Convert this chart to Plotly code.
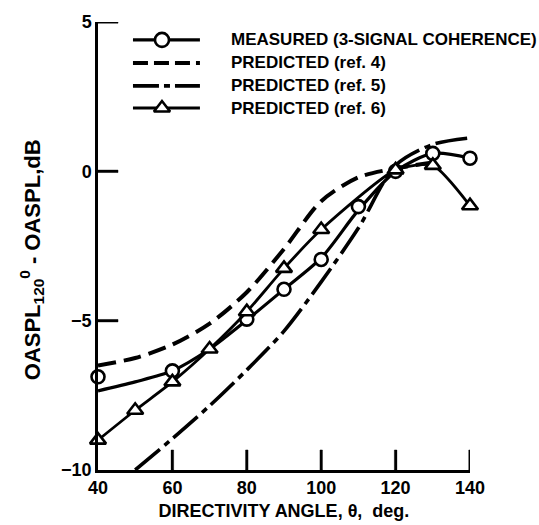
import plotly.graph_objects as go

# Directivity angle, deg
angle_meas = [40, 60, 80, 90, 100, 110, 120, 130, 140]
oaspl_meas = [-6.88, -6.68, -4.95, -3.95, -2.95, -1.18, 0.0, 0.6, 0.44]

# Faired curve through the measured data
angle_meas_fit = [40, 50, 60, 70, 80, 90, 100, 110, 120, 130, 140]
oaspl_meas_fit = [-7.35, -7.05, -6.68, -5.95, -4.98, -3.95, -2.9, -1.3, 0.0, 0.6, 0.44]

# Predicted (ref. 4)
angle_ref4 = [40, 50, 60, 70, 80, 90, 100, 110, 120, 130]
oaspl_ref4 = [-6.5, -6.25, -5.8, -5.1, -4.05, -2.6, -1.0, -0.2, 0.1, 0.3]

# Predicted (ref. 5)
angle_ref5 = [50, 60, 70, 80, 90, 100, 110, 120, 130, 140]
oaspl_ref5 = [-10.0, -8.95, -7.85, -6.65, -5.35, -3.7, -1.9, 0.2, 0.9, 1.12]

# Predicted (ref. 6)
angle_ref6 = [40, 50, 60, 70, 80, 90, 100, 120, 130, 140]
oaspl_ref6 = [-9.0, -8.0, -7.05, -5.95, -4.7, -3.25, -1.95, 0.05, 0.2, -1.15]

legend_labels = [
    "MEASURED (3-SIGNAL COHERENCE)",
    "PREDICTED (ref. 4)",
    "PREDICTED (ref. 5)",
    "PREDICTED (ref. 6)",
]

x_ticks = [40, 60, 80, 100, 120, 140]
y_ticks = [-10, -5, 0, 5]

FONT = "Liberation Sans, Arial, sans-serif"
INK = "black"
X_RANGE = [40, 140]
Y_RANGE = [-10, 5]
PLOT_W, PLOT_H = 372, 448
TICK_LEN_PX = 20
TICK_W_PX = 2.4

fig = go.Figure()

# measured: faired line + open circles
fig.add_trace(go.Scatter(x=angle_meas_fit, y=oaspl_meas_fit, mode="lines",
                         line=dict(color=INK, width=3.2, shape="spline", smoothing=0.8),
                         cliponaxis=False, showlegend=False))
fig.add_trace(go.Scatter(x=angle_meas, y=oaspl_meas, mode="markers",
                         marker=dict(symbol="circle", size=13, color="white",
                                     line=dict(color=INK, width=2.6)),
                         cliponaxis=False, showlegend=False))

# ref. 4 dashed
fig.add_trace(go.Scatter(x=angle_ref4, y=oaspl_ref4, mode="lines",
                         line=dict(color=INK, width=4, dash="18px,8px",
                                   shape="spline", smoothing=0.8),
                         cliponaxis=False, showlegend=False))

# ref. 5 dash-dot
fig.add_trace(go.Scatter(x=angle_ref5, y=oaspl_ref5, mode="lines",
                         line=dict(color=INK, width=3.6, dash="32px,6px,6px,6px",
                                   shape="spline", smoothing=0.8),
                         cliponaxis=False, showlegend=False))

# ref. 6 line + open triangles
fig.add_trace(go.Scatter(x=angle_ref6, y=oaspl_ref6, mode="lines+markers",
                         line=dict(color=INK, width=2.8, shape="spline", smoothing=0.6),
                         marker=dict(symbol="triangle-up", size=14, color="white",
                                     line=dict(color=INK, width=2.6)),
                         cliponaxis=False, showlegend=False))

# tick marks pointing into the plot, drawn as thin filled bars
px_x = (X_RANGE[1] - X_RANGE[0]) / PLOT_W
px_y = (Y_RANGE[1] - Y_RANGE[0]) / PLOT_H
for xt in x_ticks[1:]:
    hw = 0.5 * TICK_W_PX * px_x
    y0, y1 = Y_RANGE[0], Y_RANGE[0] + TICK_LEN_PX * px_y
    fig.add_trace(go.Scatter(x=[xt - hw, xt + hw, xt + hw, xt - hw, xt - hw],
                             y=[y0, y0, y1, y1, y0], mode="lines", fill="toself",
                             fillcolor=INK, line=dict(color=INK, width=0.5),
                             cliponaxis=False, showlegend=False, hoverinfo="skip"))
for yt in y_ticks[1:]:
    hh = 0.5 * TICK_W_PX * px_y
    x0, x1 = X_RANGE[0], X_RANGE[0] + TICK_LEN_PX * px_x
    fig.add_trace(go.Scatter(x=[x0, x1, x1, x0, x0],
                             y=[yt - hh, yt - hh, yt + hh, yt + hh, yt - hh],
                             mode="lines", fill="toself",
                             fillcolor=INK, line=dict(color=INK, width=0.5),
                             cliponaxis=False, showlegend=False, hoverinfo="skip"))

# key, drawn inside the plot area (data units)
key_x0, key_x1, key_xm = 49.4, 67.4, 57.2
key_rows = [4.4, 3.63, 2.86, 2.12]
key_styles = [
    dict(line=dict(color=INK, width=3.2), marker="circle"),
    dict(line=dict(color=INK, width=4, dash="15px,6px"), marker=None),
    dict(line=dict(color=INK, width=3.6, dash="26px,5px,6px,5px"), marker=None),
    dict(line=dict(color=INK, width=2.8), marker="triangle-up"),
]
for yk, style, label in zip(key_rows, key_styles, legend_labels):
    fig.add_trace(go.Scatter(x=[key_x0, key_x1], y=[yk, yk], mode="lines",
                             line=style["line"], showlegend=False, hoverinfo="skip"))
    if style["marker"]:
        fig.add_trace(go.Scatter(x=[key_xm], y=[yk], mode="markers",
                                 marker=dict(symbol=style["marker"], size=14, color="white",
                                             line=dict(color=INK, width=2.6)),
                                 showlegend=False, hoverinfo="skip"))
    fig.add_annotation(x=75.3, y=yk, xref="x", yref="y", text=label, showarrow=False,
                       xanchor="left", yanchor="middle",
                       font=dict(family=FONT, size=17, color=INK, weight="bold"))

# y-axis title
fig.add_annotation(x=-0.178, y=0.47, xref="paper", yref="paper",
                   text="OASPL<sub>120</sub><sup>0</sup> - OASPL,dB",
                   textangle=-90, showarrow=False, xanchor="center", yanchor="middle",
                   font=dict(family=FONT, size=22, color=INK, weight="bold"))

fig.update_layout(
    width=539, height=525,
    margin=dict(l=98, r=69, t=22, b=55),
    paper_bgcolor="white", plot_bgcolor="white",
    font=dict(family=FONT, size=18, color=INK, weight="bold"),
    xaxis=dict(range=X_RANGE, tickvals=x_ticks, ticks="inside", ticklen=TICK_LEN_PX,
               tickwidth=2.2, tickcolor=INK, showline=True,
               linewidth=2.5, linecolor=INK, showgrid=False, zeroline=False,
               automargin=False,
               title=dict(text="DIRECTIVITY ANGLE, θ,  deg.", standoff=8,
                          font=dict(family=FONT, size=18, color=INK, weight="bold"))),
    yaxis=dict(range=Y_RANGE, tickvals=y_ticks, ticks="inside", ticklen=TICK_LEN_PX,
               tickwidth=2.2, tickcolor=INK, showline=True,
               linewidth=2.5, linecolor=INK, showgrid=False, zeroline=False,
               automargin=False),
)

fig.write_html("out.html")
